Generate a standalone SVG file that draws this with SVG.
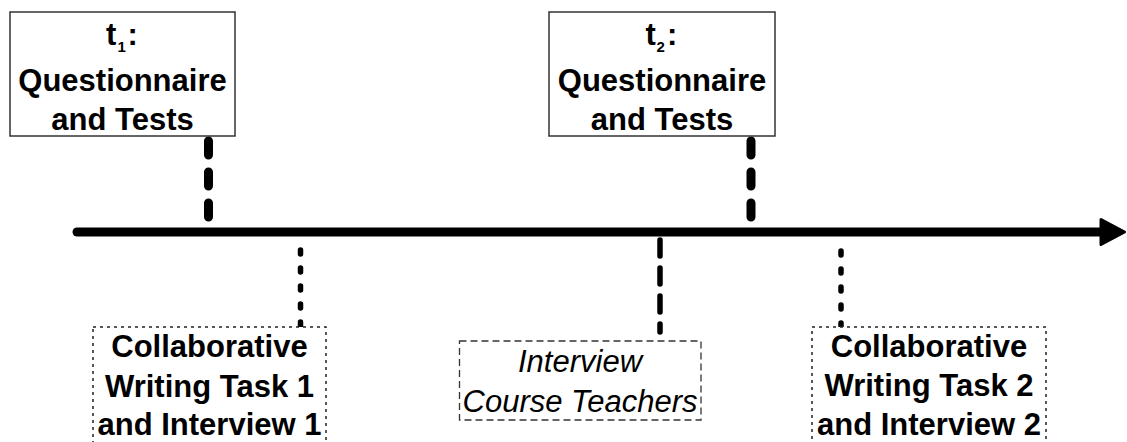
<svg xmlns="http://www.w3.org/2000/svg" width="1127" height="442" viewBox="0 0 1127 442">
<style>
  .bg{fill:#ffffff}
  .solid{fill:#ffffff;stroke:#333333;stroke-width:1.5}
  .dashbox{fill:#ffffff;stroke:#333333;stroke-width:1.3;stroke-dasharray:7 4}
  .dotbox{fill:#ffffff;stroke:#222222;stroke-width:1.5;stroke-dasharray:3 4}
  .lbl{font-family:"Liberation Sans",Arial,Helvetica,sans-serif;font-size:31px;font-weight:bold;fill:#000000;text-anchor:middle}
  .sub{font-family:"Liberation Sans",Arial,Helvetica,sans-serif;font-size:15px;font-weight:bold;fill:#000000}
  .tl{font-family:"Liberation Sans",Arial,Helvetica,sans-serif;font-size:31px;font-weight:bold;fill:#000000}
  .ital{font-family:"Liberation Sans",Arial,Helvetica,sans-serif;font-size:31px;font-style:italic;fill:#000000;text-anchor:middle}
  .axis{stroke:#000000;stroke-width:9;stroke-linecap:round;fill:none}
  .longdash{stroke:#000000;stroke-width:9;stroke-dasharray:14 17;stroke-linecap:round;fill:none}
  .meddash{stroke:#000000;stroke-width:5.5;stroke-dasharray:16 12;stroke-linecap:round;fill:none}
  .dots{stroke:#000000;stroke-width:5.5;stroke-dasharray:4 14;stroke-linecap:round;fill:none}
</style>
<defs>
  <marker id="head" markerUnits="userSpaceOnUse" viewBox="0 0 30 30" markerWidth="30" markerHeight="30" refX="2" refY="15" orient="auto">
    <path d="M2,2.5 L25.5,15 L2,27.5 Z" fill="#000000" stroke="#000000" stroke-width="3" stroke-linejoin="round"/>
  </marker>
</defs>
<rect class="bg" x="0" y="0" width="1127" height="442"/>

<g id="connectors">
  <line id="timeline" class="axis" x1="77" y1="232" x2="1101" y2="232" marker-end="url(#head)"/>
  <line id="c-t1" class="longdash" x1="208.5" y1="141" x2="208.5" y2="232"/>
  <line id="c-t2" class="longdash" x1="751" y1="141" x2="751" y2="232"/>
  <line id="c-interview" class="meddash" x1="660" y1="240" x2="660" y2="332"/>
  <line id="c-cwt1" class="dots" x1="300.5" y1="250" x2="300.5" y2="328"/>
  <line id="c-cwt2" class="dots" x1="841" y1="251" x2="841" y2="328"/>
</g>

<g id="t1">
  <rect class="solid" x="10" y="12" width="225" height="124"/>
  <text class="tl" x="106" y="45">t</text>
  <text class="sub" x="117.5" y="52">1</text>
  <text class="tl" x="127.5" y="45">:</text>
  <text class="lbl" x="122.5" y="91">Questionnaire</text>
  <text class="lbl" x="122.5" y="130">and Tests</text>
</g>

<g id="t2">
  <rect class="solid" x="549" y="12" width="226" height="124"/>
  <text class="tl" x="645.5" y="45">t</text>
  <text class="sub" x="656.5" y="52">2</text>
  <text class="tl" x="667" y="45">:</text>
  <text class="lbl" x="662" y="91">Questionnaire</text>
  <text class="lbl" x="662" y="130">and Tests</text>
</g>

<g id="interview">
  <rect class="dashbox" x="459.5" y="341" width="241.5" height="79"/>
  <text class="ital" x="580" y="372">Interview</text>
  <text class="ital" x="580" y="412">Course Teachers</text>
</g>

<g id="cwt1">
  <rect class="dotbox" x="93" y="327" width="233" height="130"/>
  <text class="lbl" x="209.5" y="357">Collaborative</text>
  <text class="lbl" x="209.5" y="396.5">Writing Task 1</text>
  <text class="lbl" x="209.5" y="435">and Interview 1</text>
</g>

<g id="cwt2">
  <rect class="dotbox" x="812" y="327" width="234" height="130"/>
  <text class="lbl" x="929" y="357">Collaborative</text>
  <text class="lbl" x="929" y="396">Writing Task 2</text>
  <text class="lbl" x="929" y="434.5">and Interview 2</text>
</g>
</svg>
